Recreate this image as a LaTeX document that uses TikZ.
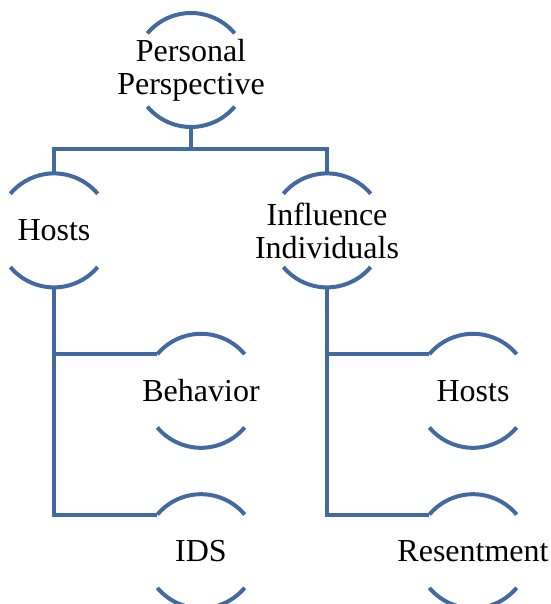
\documentclass[tikz,border=0pt]{standalone}
\usepackage{fontspec}
\setmainfont{Liberation Serif}
\usetikzlibrary{positioning}

\definecolor{rimblue}{RGB}{66,106,160}

\begin{document}
\begin{tikzpicture}[%
    x=1pt,
    y=1pt,
    node distance=46pt,
    bubble/.style={%
      minimum size=114pt,
      inner sep=0pt,
      align=center,
      font=\fontsize{32}{33}\selectfont
    },
    rim/.style={%
      draw=rimblue,
      line width=4pt
    }
  ]
    \useasboundingbox (0,0) rectangle (550,-604);

    \node[bubble] (pp) at (191,-70)                     {Personal\\Perspective};
    \node[bubble] (hosts) [below=of pp, xshift=-137pt]  {Hosts};
    \node[bubble] (infl) [below=of pp, xshift=136pt]    {Influence\\Individuals};
    \node[bubble] (behav) [below=of hosts, xshift=147pt] {Behavior};
    \node[bubble] (ids) [below=of behav]                {IDS};
    \node[bubble] (hosts2) [below=of infl, xshift=146pt] {Hosts};
    \node[bubble] (resent) [below=of hosts2]            {Resentment};

    % open circles: only top and bottom arcs
    \foreach \n in {pp,hosts,infl,behav,ids,hosts2,resent} {
      \draw[rim] ([shift={(40:57pt)}]\n.center) arc[start angle=40, end angle=140, radius=57pt];
      \draw[rim] ([shift={(220:57pt)}]\n.center) arc[start angle=220, end angle=320, radius=57pt];
    }

    \draw[rim] (pp.south) -- ++(0,-22) -| (hosts.north);
    \draw[rim] (pp.south) -- ++(0,-22) -| (infl.north);
    \draw[rim] (hosts.south) |- ([shift={(140:57pt)}]behav.center);
    \draw[rim] (hosts.south) |- ([shift={(140:57pt)}]ids.center);
    \draw[rim] (infl.south) |- ([shift={(140:57pt)}]hosts2.center);
    \draw[rim] (infl.south) |- ([shift={(140:57pt)}]resent.center);
\end{tikzpicture}
\end{document}
